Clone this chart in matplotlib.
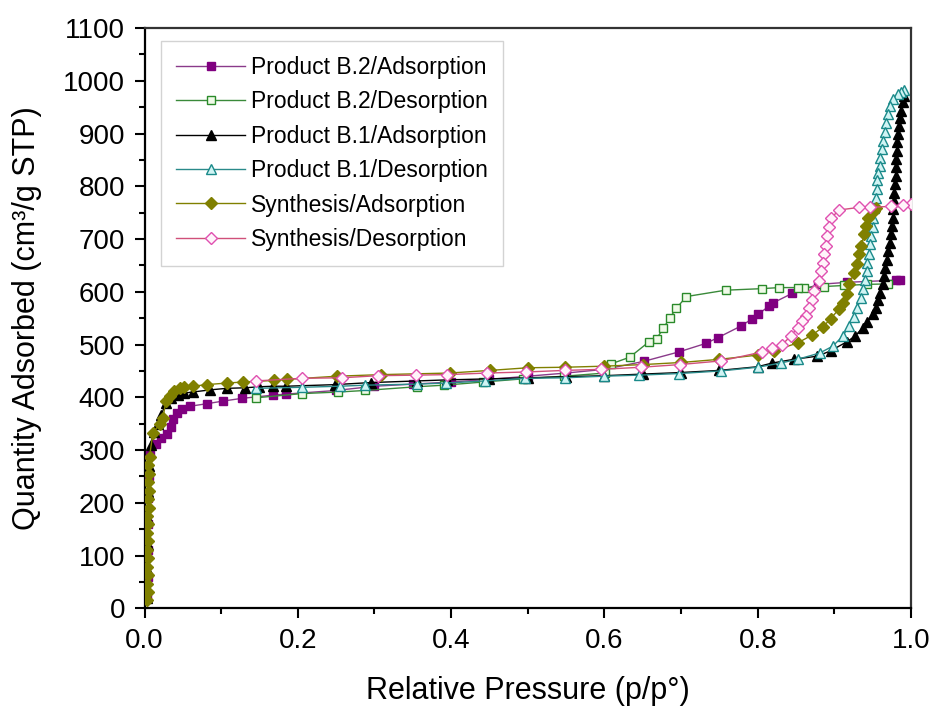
import matplotlib
matplotlib.use("Agg")
import matplotlib.pyplot as plt
from matplotlib.ticker import MultipleLocator

plt.rcParams['font.family'] = ['Liberation Sans', 'DejaVu Sans']

# Product B.2 / Adsorption
b2_ads_x = [0.003, 0.004, 0.004, 0.005, 0.005, 0.006, 0.0075, 0.015, 0.022, 0.029, 0.034, 0.037,
            0.042, 0.049, 0.059, 0.082, 0.103, 0.127, 0.167, 0.184, 0.25, 0.30, 0.35, 0.40,
            0.45, 0.50, 0.55, 0.60, 0.651, 0.697, 0.732, 0.748, 0.778, 0.793, 0.801, 0.815,
            0.820, 0.845, 0.879, 0.917, 0.980, 0.986]
b2_ads_y = [20, 60, 110, 160, 210, 250, 291, 311, 323, 331, 343, 358,
            371, 377, 383, 388, 393, 398, 404, 406, 413, 421, 425, 429,
            434, 440, 446, 453, 468, 486, 502, 513, 535, 549, 558, 573,
            579, 597, 614, 618, 622, 622]

# Product B.2 / Desorption
b2_des_x = [0.970, 0.942, 0.913, 0.887, 0.861, 0.852, 0.828, 0.806, 0.758, 0.707, 0.694,
            0.685, 0.677, 0.668, 0.658, 0.633, 0.608, 0.601, 0.547, 0.494, 0.442, 0.391,
            0.355, 0.288, 0.253, 0.205, 0.145]
b2_des_y = [615, 614, 612, 610, 608, 608, 608, 606, 603, 591, 569,
            550, 531, 511, 505, 476, 463, 446, 440, 435, 429, 423,
            420, 413, 410, 407, 399]

# Product B.1 / Adsorption
b1_ads_x = [0.003, 0.004, 0.004, 0.005, 0.005, 0.006, 0.008, 0.012, 0.017, 0.022, 0.028,
            0.035, 0.044, 0.052, 0.063, 0.085, 0.107, 0.131, 0.150, 0.168, 0.185, 0.248,
            0.296, 0.355, 0.394, 0.45, 0.50, 0.55, 0.60, 0.65, 0.70, 0.75, 0.80, 0.819,
            0.847, 0.878, 0.895, 0.916, 0.927, 0.937, 0.943, 0.951, 0.954, 0.957, 0.960,
            0.963, 0.965, 0.966, 0.969, 0.970, 0.972, 0.974, 0.975, 0.976, 0.977, 0.978,
            0.978, 0.979, 0.980, 0.980, 0.981, 0.982, 0.982, 0.983, 0.984, 0.986, 0.987,
            0.989, 0.991]
b1_ads_y = [20, 70, 120, 170, 220, 270, 310, 335, 350, 367, 390,
            399, 405, 408, 410, 414, 417, 418, 420, 421, 421, 424,
            428, 431, 433, 435, 437, 439, 441, 444, 447, 451, 458, 465,
            472, 478, 488, 505, 516, 532, 543, 557, 570, 584, 598,
            614, 630, 646, 661, 677, 693, 709, 725, 740, 756, 772,
            788, 804, 820, 836, 851, 867, 883, 899, 915, 930, 943,
            959, 971]

# Product B.1 / Desorption
b1_des_x = [0.991, 0.987, 0.983, 0.976, 0.972, 0.970, 0.967, 0.966, 0.964, 0.962, 0.960,
            0.959, 0.957, 0.956, 0.956, 0.954, 0.952, 0.951, 0.950, 0.948, 0.947, 0.945,
            0.943, 0.942, 0.940, 0.937, 0.935, 0.930, 0.925, 0.919, 0.911, 0.898, 0.881,
            0.852, 0.830, 0.800, 0.752, 0.697, 0.645, 0.599, 0.548, 0.497, 0.444, 0.393,
            0.355, 0.288, 0.255, 0.205, 0.145]
b1_des_y = [982, 978, 975, 966, 953, 937, 920, 902, 886, 870, 854,
            838, 825, 812, 794, 778, 759, 740, 723, 706, 690, 672,
            655, 639, 622, 605, 589, 570, 552, 535, 516, 497, 484,
            472, 465, 457, 450, 445, 442, 440, 437, 436, 431, 427,
            425, 423, 421, 419, 417]

# Synthesis / Adsorption
syn_ads_x = [0.003, 0.005, 0.003, 0.005, 0.003, 0.005, 0.003, 0.005, 0.003, 0.005, 0.0035,
             0.0055, 0.004, 0.006, 0.004, 0.006, 0.0045, 0.0065, 0.011, 0.020, 0.024, 0.028,
             0.033, 0.039, 0.046, 0.052, 0.063, 0.081, 0.107, 0.129, 0.169, 0.186, 0.251,
             0.309, 0.398, 0.451, 0.500, 0.549, 0.599, 0.650, 0.700, 0.750, 0.800, 0.821,
             0.852, 0.871, 0.885, 0.895, 0.906, 0.911, 0.916, 0.919, 0.926, 0.930, 0.932,
             0.935, 0.939, 0.941, 0.944, 0.952, 0.954]
syn_ads_y = [15, 31, 47, 63, 79, 95, 111, 127, 143, 159, 175,
             191, 207, 223, 239, 255, 271, 287, 333, 349, 361, 393,
             402, 412, 418, 419, 421, 424, 427, 429, 432, 434, 440,
             443, 446, 451, 456, 457, 459, 462, 466, 472, 480, 488,
             503, 518, 533, 549, 567, 579, 595, 614, 636, 652, 671,
             687, 709, 725, 740, 753, 759]

# Synthesis / Desorption
syn_des_x = [1.000, 0.989, 0.974, 0.946, 0.932, 0.906, 0.896, 0.893, 0.890, 0.889, 0.887,
             0.885, 0.882, 0.880, 0.874, 0.871, 0.867, 0.863, 0.858, 0.852, 0.843, 0.832,
             0.819, 0.806, 0.752, 0.698, 0.648, 0.596, 0.548, 0.498, 0.447, 0.395, 0.354,
             0.305, 0.257, 0.205, 0.145]
syn_des_y = [766, 765, 762, 760, 760, 755, 740, 722, 706, 687, 671,
             655, 639, 620, 601, 585, 570, 554, 544, 532, 516, 500,
             493, 486, 469, 462, 457, 453, 451, 448, 446, 443, 442,
             441, 437, 436, 431]

fig = plt.figure(figsize=(9.36, 7.11), dpi=100)
ax = fig.add_axes([0.1544, 0.1444, 0.8189, 0.8162])

ax.plot(b2_ads_x, b2_ads_y, '-s', color='#8a3a8a', lw=1.0, ms=5.5,
        mfc='#800080', mec='#800080', label='Product B.2/Adsorption', zorder=3)
ax.plot(b2_des_x, b2_des_y, '-s', color='#3a8a3a', lw=1.0, ms=5.5,
        mfc='#f0fae8', mec='#2a8a2a', mew=1.0, label='Product B.2/Desorption', zorder=3)
ax.plot(b1_ads_x, b1_ads_y, '-^', color='black', lw=1.0, ms=7,
        mfc='black', mec='black', label='Product B.1/Adsorption', zorder=3)
ax.plot(b1_des_x, b1_des_y, '-^', color='#2a8a8a', lw=1.0, ms=7,
        mfc='#d0f4f4', mec='#1a8a8a', mew=1.0, label='Product B.1/Desorption', zorder=3)
ax.plot(syn_ads_x, syn_ads_y, '-D', color='#808000', lw=1.0, ms=6,
        mfc='#808000', mec='#808000', label='Synthesis/Adsorption', zorder=3)
ax.plot(syn_des_x, syn_des_y, '-D', color='#d0507a', lw=1.0, ms=6.5,
        mfc='#fff4fa', mec='#e050b0', mew=1.0, label='Synthesis/Desorption', zorder=3)

ax.set_xlim(0, 1.0)
ax.set_ylim(0, 1100)
ax.xaxis.set_major_locator(MultipleLocator(0.2))
ax.xaxis.set_minor_locator(MultipleLocator(0.1))
ax.yaxis.set_major_locator(MultipleLocator(100))
ax.yaxis.set_minor_locator(MultipleLocator(50))
ax.xaxis.set_major_formatter(plt.FuncFormatter(lambda v, p: '%.1f' % v))

ax.tick_params(which='major', direction='out', length=7, width=1.5, labelsize=20, pad=7)
ax.tick_params(which='minor', direction='out', length=4, width=1.5)
ax.tick_params(top=False, right=False, which='both')
for s in ['left', 'bottom']:
    ax.spines[s].set_linewidth(1.6)
for s in ['top', 'right']:
    ax.spines[s].set_linewidth(1.6)
    ax.spines[s].set_color('#333333')

ax.set_xlabel('Relative Pressure (p/p°)', fontsize=22, labelpad=16)
ax.set_ylabel('Quantity Adsorbed (cm³/g STP)', fontsize=22, labelpad=15)

leg = ax.legend(loc='upper left', bbox_to_anchor=(0.022, 0.978), borderaxespad=0,
                fontsize=16.5, frameon=True, fancybox=False, edgecolor='#c8c8c8',
                handlelength=3.0, handletextpad=0.25, labelspacing=0.5,
                borderpad=0.65, markerscale=1.0)
leg.get_frame().set_linewidth(1.0)

fig.savefig('out.png', dpi=100)
